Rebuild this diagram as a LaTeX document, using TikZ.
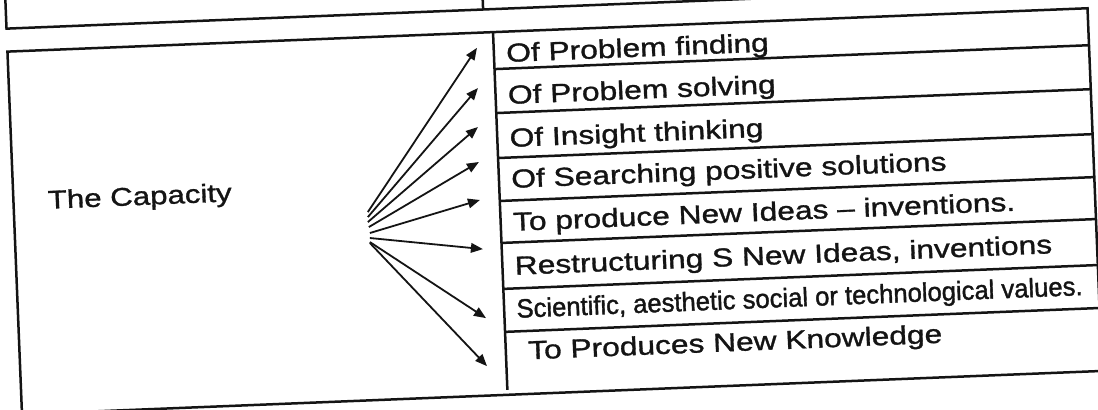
\documentclass[tikz,border=0pt]{standalone}
\usepackage{fontspec}
\setmainfont{Liberation Sans}[FakeStretch=1.22,FakeBold=1.2]
\newfontfamily\narrowfont{Liberation Sans}[FakeStretch=0.97,FakeBold=1.4]
\usetikzlibrary{arrows.meta}
\definecolor{ink}{HTML}{141414}

\begin{document}
\begin{tikzpicture}[x=0.5pt,y=0.5pt,
  rule/.style={draw=ink,line width=1.25pt},
  item/.style={anchor=base west,inner sep=0pt,text=ink,font=\fontsize{13}{15}\selectfont},
  arrow/.style={draw=ink,line width=0.9pt,-{Triangle[length=6pt,width=4.8pt]}}
]
\path[use as bounding box,fill=white] (0,0) rectangle (1098,-409);
\begin{scope}[shift={(549,-205)},rotate=2.3,transform shape]
% upper table, only its foot is on the page
\draw[rule] (-535,260) -- (-535,198) -- (600,198);
\draw[rule] (-58,260) -- (-58,198);
% lower table
\draw[rule] (-535,175) rectangle (546,-188);
\draw[rule] (-49,175) -- (-49,-183);
\draw[rule] (-49,138) -- (546,138);
\draw[rule] (-49,94) -- (546,94);
\draw[rule] (-49,49) -- (546,49);
\draw[rule] (-49,6) -- (546,6);
\draw[rule] (-49,-36) -- (546,-36);
\draw[rule] (-49,-82) -- (546,-82);
\draw[rule] (-49,-125) -- (546,-125);
% texts
\node[item,font=\fontsize{12.8}{15}\selectfont] (cap) at (-501,16.4) {The Capacity};
\node[item] (r1) at (-37,144.6) {Of Problem finding};
\node[item] (r2) at (-37,102.6) {Of Problem solving};
\node[item] (r3) at (-37,59.6) {Of Insight thinking};
\node[item] (r4) at (-37,18.6) {Of Searching positive solutions};
\node[item] (r5) at (-37,-24.4) {To produce New Ideas -- inventions.};
\node[item] (r6) at (-37,-68.4) {Restructuring S New Ideas, inventions};
\node[item,font=\narrowfont\fontsize{13.2}{15}\selectfont] (r7) at (-37,-111.4)
  {Scientific, aesthetic social or technological values.};
\node[item] (r8) at (-27,-153.4) {To Produces New Knowledge};
% fan of arrows
\coordinate (s1) at (-181.3,0.2);   \coordinate (t1) at (-65.7,159.9);
\coordinate (s2) at (-181.5,-4.8);  \coordinate (t2) at (-66.3,119.8);
\coordinate (s3) at (-181.7,-9.8);  \coordinate (t3) at (-67.9,80.8);
\coordinate (s4) at (-180.9,-14.8); \coordinate (t4) at (-68.3,45.8);
\coordinate (s5) at (-180.1,-20.8); \coordinate (t5) at (-68.8,7.8);
\coordinate (s6) at (-180.3,-25.8); \coordinate (t6) at (-67.8,-41.4);
\coordinate (s7) at (-180.5,-29.8); \coordinate (t7) at (-67.5,-110.5);
\coordinate (s8) at (-180.5,-30.8); \coordinate (t8) at (-68.4,-158.5);
\draw[arrow] (s1) -- (t1);
\draw[arrow] (s2) -- (t2);
\draw[arrow] (s3) -- (t3);
\draw[arrow] (s4) -- (t4);
\draw[arrow] (s5) -- (t5);
\draw[arrow] (s6) -- (t6);
\draw[arrow] (s7) -- (t7);
\draw[arrow] (s8) -- (t8);
\end{scope}
\end{tikzpicture}
\end{document}
